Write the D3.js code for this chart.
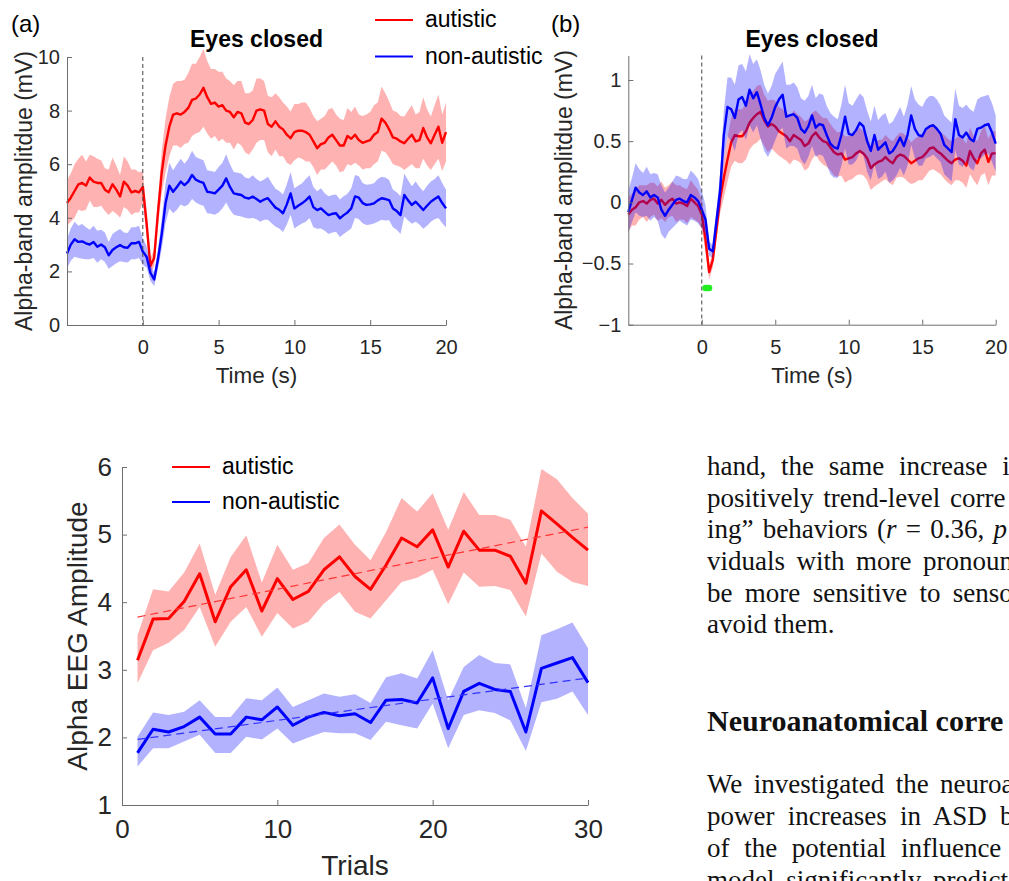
<!DOCTYPE html>
<html><head><meta charset="utf-8">
<script src="https://cdn.jsdelivr.net/npm/d3@7"></script>
<style>
body{margin:0;background:#fff;}
svg{display:block;}
</style></head><body>
<svg id="fig" width="1009" height="881"></svg>
<script>
// ---- time-course data (panels a, b): sampled every 0.25 s from -5 s to 20 s ----
const timeStart = -5, timeStep = 0.25;
const timeTicks = [0, 5, 10, 15, 20];
const ampTicksA = [0, 2, 4, 6, 8, 10];
const ampTicksB = [-1, -0.5, 0, 0.5, 1];

// (a) raw alpha-band amplitude, group means and error half-widths
const autisticA = [
 4.55,4.75,5.00,5.25,5.30,5.20,5.50,5.35,5.30,5.30,
 5.05,4.95,5.25,5.05,4.80,5.35,5.20,4.95,5.00,4.95,
 5.15,3.80,2.20,2.50,4.20,5.70,6.70,7.40,7.85,7.90,
 7.85,7.95,8.10,8.40,8.45,8.60,8.85,8.50,8.25,8.30,
 8.15,8.20,8.00,7.95,7.75,7.95,7.90,7.55,7.50,7.65,
 8.00,8.05,8.00,7.50,7.40,7.60,7.40,7.30,7.10,6.97,
 7.20,7.25,7.25,7.20,7.10,6.85,6.60,6.75,6.80,7.00,
 7.10,6.90,6.70,6.70,7.05,6.95,7.10,6.90,6.80,6.85,
 6.90,7.10,7.20,7.70,7.55,7.30,7.00,6.95,6.85,6.78,
 6.95,7.10,6.85,6.90,7.35,7.00,6.78,7.10,7.40,6.80,
 7.20];
const autisticAErr = [
 0.85,0.9,1.0,0.95,1.05,0.9,0.85,0.95,0.9,0.85,
 0.8,0.85,1.0,0.9,0.8,0.95,0.9,0.85,0.8,0.75,
 0.6,0.45,0.3,0.3,0.5,0.8,1.0,1.1,1.15,1.2,
 1.25,1.2,1.3,1.35,1.3,1.4,1.45,1.35,1.3,1.25,
 1.3,1.25,1.2,1.15,1.2,1.15,1.2,1.1,1.15,1.1,
 1.2,1.15,1.1,1.05,1.1,1.05,1.1,1.0,1.05,1.0,
 1.05,1.0,1.05,1.1,1.0,0.95,1.0,0.95,1.0,1.05,
 1.0,0.95,1.0,0.95,1.05,1.0,1.05,0.95,1.0,1.0,
 1.05,1.1,1.1,1.2,1.1,1.05,1.0,1.0,0.95,1.0,
 1.05,1.1,1.0,1.05,1.15,1.05,1.0,1.1,1.2,1.05,
 1.1];
const nonAutisticA = [
 2.67,3.00,3.20,3.10,3.12,3.05,3.00,3.10,2.92,3.00,
 2.90,2.60,2.80,2.90,2.98,2.90,2.88,3.05,3.05,3.10,
 2.74,2.55,1.95,1.70,2.45,3.40,4.55,5.20,4.97,5.15,
 5.35,5.22,5.35,5.60,5.42,5.35,5.30,4.97,4.95,4.91,
 5.05,5.20,5.47,5.15,4.91,4.88,4.85,4.75,4.72,4.79,
 4.70,4.60,4.68,4.73,4.55,4.38,4.30,4.17,4.50,4.91,
 4.35,4.45,4.54,4.65,4.79,4.40,4.29,4.35,4.22,4.10,
 4.15,4.17,3.98,4.10,4.20,4.35,4.80,4.75,4.55,4.48,
 4.50,4.54,4.65,4.73,4.70,4.66,4.35,4.25,4.10,4.85,
 4.65,4.48,4.60,4.45,4.29,4.45,4.60,4.70,4.79,4.55,
 4.35];
const nonAutisticAErr = [
 0.55,0.6,0.65,0.6,0.65,0.6,0.55,0.6,0.6,0.55,
 0.55,0.5,0.6,0.6,0.6,0.55,0.55,0.6,0.6,0.6,
 0.5,0.4,0.3,0.25,0.35,0.55,0.75,0.85,0.8,0.85,
 0.85,0.8,0.85,0.9,0.85,0.85,0.85,0.8,0.8,0.8,
 0.85,0.85,0.9,0.85,0.8,0.8,0.8,0.75,0.75,0.8,
 0.75,0.75,0.75,0.8,0.75,0.7,0.7,0.7,0.75,0.8,
 0.75,0.75,0.75,0.8,0.8,0.75,0.7,0.75,0.7,0.7,
 0.7,0.7,0.7,0.7,0.7,0.75,0.8,0.8,0.75,0.75,
 0.75,0.75,0.8,0.8,0.8,0.75,0.7,0.7,0.7,0.8,
 0.75,0.7,0.75,0.7,0.7,0.75,0.75,0.75,0.8,0.75,
 0.7];

// (b) baseline-corrected amplitude
const autisticB = [
 -0.10,-0.06,-0.04,0.00,0.01,-0.01,0.02,0.03,-0.01,0.02,
 -0.02,0.01,0.03,-0.01,0.00,-0.01,-0.03,0.03,0.00,-0.03,
 -0.10,-0.30,-0.57,-0.47,-0.22,0.03,0.20,0.35,0.49,0.55,
 0.54,0.54,0.58,0.65,0.69,0.72,0.74,0.67,0.62,0.64,
 0.62,0.58,0.56,0.54,0.50,0.55,0.53,0.51,0.46,0.48,
 0.54,0.57,0.53,0.50,0.49,0.45,0.41,0.39,0.40,0.35,
 0.36,0.37,0.40,0.42,0.40,0.36,0.28,0.31,0.33,0.34,
 0.37,0.34,0.32,0.37,0.39,0.38,0.35,0.32,0.34,0.36,
 0.37,0.40,0.44,0.45,0.42,0.40,0.37,0.34,0.32,0.35,
 0.36,0.34,0.30,0.42,0.36,0.32,0.40,0.43,0.33,0.40,
 0.40];
const autisticBErr = [
 0.14,0.13,0.15,0.14,0.13,0.15,0.14,0.13,0.14,0.15,
 0.14,0.13,0.14,0.15,0.14,0.13,0.14,0.15,0.14,0.13,
 0.12,0.1,0.06,0.06,0.08,0.12,0.16,0.18,0.2,0.21,
 0.22,0.22,0.23,0.22,0.22,0.23,0.22,0.21,0.21,0.2,
 0.21,0.2,0.2,0.2,0.19,0.2,0.19,0.19,0.2,0.2,
 0.19,0.18,0.19,0.19,0.2,0.19,0.19,0.18,0.18,0.19,
 0.18,0.18,0.18,0.19,0.18,0.18,0.18,0.18,0.18,0.17,
 0.18,0.18,0.18,0.17,0.18,0.18,0.18,0.17,0.18,0.18,
 0.19,0.18,0.18,0.18,0.17,0.17,0.18,0.18,0.18,0.17,
 0.18,0.18,0.18,0.19,0.18,0.18,0.18,0.19,0.19,0.18,
 0.18];
const nonAutisticB = [
 -0.08,0.02,0.12,0.08,0.06,0.09,0.04,0.06,0.04,-0.06,
 -0.11,-0.06,-0.02,0.02,0.03,0.01,0.00,0.06,0.04,0.01,
 -0.06,-0.14,-0.38,-0.40,-0.15,0.10,0.55,0.78,0.76,0.69,
 0.84,0.86,0.79,0.92,0.85,0.90,0.80,0.69,0.63,0.69,
 0.78,0.84,0.88,0.70,0.71,0.72,0.69,0.60,0.57,0.62,
 0.71,0.61,0.64,0.63,0.55,0.48,0.45,0.44,0.55,0.70,
 0.56,0.55,0.59,0.65,0.62,0.50,0.42,0.55,0.43,0.46,
 0.49,0.40,0.42,0.47,0.53,0.46,0.55,0.71,0.60,0.55,
 0.54,0.60,0.62,0.63,0.60,0.56,0.47,0.44,0.41,0.68,
 0.55,0.53,0.57,0.52,0.50,0.60,0.61,0.63,0.64,0.57,
 0.48];
const nonAutisticBErr = [
 0.17,0.18,0.2,0.19,0.18,0.2,0.19,0.18,0.19,0.2,
 0.19,0.18,0.19,0.2,0.18,0.18,0.19,0.2,0.19,0.18,
 0.15,0.12,0.06,0.05,0.08,0.14,0.2,0.24,0.26,0.27,
 0.28,0.27,0.28,0.29,0.28,0.27,0.28,0.27,0.26,0.26,
 0.27,0.26,0.27,0.26,0.25,0.26,0.25,0.25,0.26,0.25,
 0.25,0.24,0.25,0.25,0.24,0.25,0.25,0.24,0.25,0.26,
 0.25,0.24,0.25,0.24,0.24,0.25,0.24,0.24,0.24,0.25,
 0.24,0.24,0.24,0.25,0.25,0.24,0.25,0.24,0.24,0.25,
 0.24,0.24,0.25,0.24,0.24,0.23,0.24,0.24,0.24,0.25,
 0.24,0.24,0.23,0.24,0.24,0.24,0.25,0.24,0.24,0.24,
 0.23];
// significant group difference (panel b)
const sigTimes = [0.25, 0.375, 0.5];
const sigLevel = -0.70;

// ---- trial-by-trial data ----
const trials = [1,2,3,4,5,6,7,8,9,10,11,12,13,14,15,16,17,18,19,20,21,22,23,24,25,26,27,28,29,30];
const trialTicksX = [0, 10, 20, 30];
const trialTicksY = [1, 2, 3, 4, 5, 6];
const autisticTrial = [3.14,3.75,3.76,4.01,4.42,3.71,4.23,4.48,3.87,4.35,4.04,4.16,4.48,4.67,4.38,4.19,4.55,4.95,4.82,5.07,4.52,5.05,4.77,4.77,4.68,4.28,5.35,5.16,4.96,4.77];
const autisticTrialHi = [3.51,4.19,4.16,4.44,4.87,4.11,4.67,4.99,4.29,4.85,4.48,4.58,4.95,5.15,4.85,4.62,5.04,5.54,5.34,5.61,5.07,5.63,5.29,5.29,5.22,4.82,5.97,5.82,5.54,5.31];
const autisticTrialLo = [2.80,3.29,3.40,3.59,3.93,3.34,3.71,3.93,3.49,3.84,3.61,3.71,3.98,4.15,3.86,3.76,4.03,4.30,4.36,4.48,3.97,4.44,4.23,4.24,4.18,3.79,4.72,4.45,4.30,4.24];
const nonAutisticTrial = [1.77,2.12,2.08,2.16,2.30,2.05,2.05,2.30,2.26,2.45,2.18,2.30,2.37,2.32,2.35,2.22,2.55,2.56,2.51,2.88,2.13,2.68,2.80,2.71,2.68,2.08,3.02,3.10,3.18,2.81];
const nonAutisticTrialHi = [2.01,2.37,2.33,2.38,2.55,2.30,2.30,2.58,2.55,2.74,2.45,2.55,2.65,2.60,2.64,2.51,2.89,2.95,2.87,3.29,2.55,3.04,3.22,3.10,3.08,2.43,3.51,3.60,3.70,3.32];
const nonAutisticTrialLo = [1.57,1.84,1.84,1.94,2.04,1.77,1.77,2.01,1.97,2.13,1.91,2.00,2.08,2.06,2.06,1.96,2.23,2.18,2.13,2.50,1.84,2.33,2.40,2.36,2.25,1.80,2.52,2.57,2.68,2.33];
// linear trend end points (trial 1, trial 30)
const autisticTrend = [3.78, 5.11];
const nonAutisticTrend = [1.97, 2.88];

const seriesNames = ["autistic", "non-autistic"];

// ---- drawing ----
const RED = "#ff0000", BLUE = "#0000ff", INK = "#262626";
const SANS = "'Liberation Sans', Arial, Helvetica, sans-serif";
const SERIF = "'Liberation Serif', 'Times New Roman', serif";
const svg = d3.select("#fig");
svg.append("rect").attr("width", 1009).attr("height", 881).attr("fill", "#fff");

const timeGrid = d3.range(autisticA.length).map(i => timeStart + i * timeStep);
const tickFmt = d => (d < 0 ? "\u2212" : "") + Math.abs(d);

function styleAxis(g, size) {
  g.attr("font-family", null).attr("font-size", null);
  g.select(".domain").attr("stroke", "#6e6e6e").attr("stroke-width", 1);
  g.selectAll(".tick line").attr("stroke", "#6e6e6e").attr("stroke-width", 1);
  g.selectAll(".tick text").attr("fill", INK)
    .style("font-family", SANS).style("font-size", size + "px");
}

function timePanel(opt) {
  const x = d3.scaleLinear().domain([-5, 20]).range(opt.xr);
  const y = d3.scaleLinear().domain(opt.yd).range(opt.yr);
  const g = svg.append("g");

  const band = (m, e) => d3.area()
    .x((d, i) => x(timeGrid[i]))
    .y0((d, i) => y(m[i] - e[i]))
    .y1((d, i) => y(m[i] + e[i]))(m);
  const line = m => d3.line().x((d, i) => x(timeGrid[i])).y(d => y(d))(m);

  g.append("path").attr("d", band(opt.red, opt.redErr)).attr("fill", RED).attr("fill-opacity", 0.3);
  g.append("path").attr("d", line(opt.red)).attr("fill", "none").attr("stroke", RED)
    .attr("stroke-width", 2.4).attr("stroke-linejoin", "round");
  g.append("path").attr("d", band(opt.blue, opt.blueErr)).attr("fill", BLUE).attr("fill-opacity", 0.3);
  g.append("path").attr("d", line(opt.blue)).attr("fill", "none").attr("stroke", BLUE)
    .attr("stroke-width", 2.4).attr("stroke-linejoin", "round");

  // stimulus onset
  g.append("line").attr("x1", x(0)).attr("x2", x(0))
    .attr("y1", opt.yr[1]).attr("y2", opt.yr[0])
    .attr("stroke", "#444").attr("stroke-width", 1).attr("stroke-dasharray", "4,3");

  const ax = g.append("g").attr("transform", `translate(0,${opt.yr[0]})`)
    .call(d3.axisBottom(x).tickValues(timeTicks).tickFormat(tickFmt)
      .tickSizeInner(-5).tickSizeOuter(0).tickPadding(15));
  styleAxis(ax, 20);
  const ay = g.append("g").attr("transform", `translate(${opt.xr[0]},0)`)
    .call(d3.axisLeft(y).tickValues(opt.yt).tickFormat(tickFmt)
      .tickSizeInner(-5).tickSizeOuter(0).tickPadding(7));
  styleAxis(ay, 20);

  const cx = (opt.xr[0] + opt.xr[1]) / 2;
  g.append("text").attr("x", cx).attr("y", 47).attr("text-anchor", "middle")
    .style("font-family", SANS).style("font-size", "23px").style("font-weight", "bold")
    .attr("fill", "#000").text("Eyes closed");
  g.append("text").attr("x", cx).attr("y", 383).attr("text-anchor", "middle")
    .style("font-family", SANS).style("font-size", "22.5px").attr("fill", INK).text("Time (s)");
  g.append("text").attr("transform", `translate(${opt.ylx},${(opt.yr[0] + opt.yr[1]) / 2}) rotate(-90)`)
    .attr("text-anchor", "middle")
    .style("font-family", SANS).style("font-size", "23px").attr("fill", INK)
    .text("Alpha-band amplitdue (mV)");
  g.append("text").attr("x", opt.lx).attr("y", 32)
    .style("font-family", SANS).style("font-size", "24px").attr("fill", "#000").text(opt.letter);
  return { x, y, g };
}

const pa = timePanel({
  xr: [67, 446], yd: [0, 10], yr: [325, 57], yt: ampTicksA,
  red: autisticA, redErr: autisticAErr, blue: nonAutisticA, blueErr: nonAutisticAErr,
  ylx: 32, lx: 11, letter: "(a)"
});
const pb = timePanel({
  xr: [628.3, 995.7], yd: [-1, 1.2], yr: [324.7, 55.5], yt: ampTicksB,
  red: autisticB, redErr: autisticBErr, blue: nonAutisticB, blueErr: nonAutisticBErr,
  ylx: 572, lx: 551, letter: "(b)"
});
pb.g.selectAll(".sig").data(sigTimes).join("circle").attr("class", "sig")
  .attr("cx", d => pb.x(d)).attr("cy", pb.y(sigLevel)).attr("r", 3.2).attr("fill", "#22ee22");

function legend(x0, y0, gap) {
  const g = svg.append("g");
  [RED, BLUE].forEach((c, i) => {
    g.append("line").attr("x1", x0).attr("x2", x0 + 38).attr("y1", y0 + i * gap).attr("y2", y0 + i * gap)
      .attr("stroke", c).attr("stroke-width", 2);
    g.append("text").attr("x", x0 + 50).attr("y", y0 + i * gap + 7)
      .style("font-family", SANS).style("font-size", "23px").attr("fill", "#000").text(seriesNames[i]);
  });
}
legend(375, 20, 36.5);

// ---- trial panel ----
{
  const x = d3.scaleLinear().domain([0, 30]).range([122, 588]);
  const y = d3.scaleLinear().domain([1, 6]).range([805, 467]);
  const g = svg.append("g");
  const band = (lo, hi) => d3.area().x((d, i) => x(trials[i])).y0((d, i) => y(lo[i])).y1((d, i) => y(hi[i]))(trials);
  const line = m => d3.line().x((d, i) => x(trials[i])).y(d => y(d))(m);

  g.append("path").attr("d", band(autisticTrialLo, autisticTrialHi)).attr("fill", RED).attr("fill-opacity", 0.3);
  g.append("path").attr("d", band(nonAutisticTrialLo, nonAutisticTrialHi)).attr("fill", BLUE).attr("fill-opacity", 0.3);
  g.append("path").attr("d", line(autisticTrial)).attr("fill", "none").attr("stroke", RED)
    .attr("stroke-width", 3).attr("stroke-linejoin", "round");
  g.append("path").attr("d", line(nonAutisticTrial)).attr("fill", "none").attr("stroke", BLUE)
    .attr("stroke-width", 3).attr("stroke-linejoin", "round");
  [[autisticTrend, "#ff3333"], [nonAutisticTrend, "#3333ff"]].forEach(([t, c]) => {
    g.append("line").attr("x1", x(trials[0])).attr("x2", x(trials[trials.length - 1]))
      .attr("y1", y(t[0])).attr("y2", y(t[1]))
      .attr("stroke", c).attr("stroke-width", 1.2).attr("stroke-dasharray", "8,5");
  });

  const ax = g.append("g").attr("transform", "translate(0,805)")
    .call(d3.axisBottom(x).tickValues(trialTicksX).tickFormat(tickFmt)
      .tickSizeInner(-5).tickSizeOuter(0).tickPadding(15));
  styleAxis(ax, 26);
  const ay = g.append("g").attr("transform", "translate(122,0)")
    .call(d3.axisLeft(y).tickValues(trialTicksY).tickFormat(tickFmt)
      .tickSizeInner(-5).tickSizeOuter(0).tickPadding(10));
  styleAxis(ay, 26);

  g.append("text").attr("x", 355).attr("y", 875).attr("text-anchor", "middle")
    .style("font-family", SANS).style("font-size", "28px").attr("fill", INK).text("Trials");
  g.append("text").attr("transform", "translate(87,636) rotate(-90)").attr("text-anchor", "middle")
    .style("font-family", SANS).style("font-size", "28px").attr("fill", INK).text("Alpha EEG Amplitude");
}
legend(172, 467, 35);

// ---- running text column ----
{
  const g = svg.append("g").style("font-family", SERIF).attr("fill", "#111");
  const body = [
    { y: 475, ws: 8, parts: [["hand, the same increase i", false]] },
    { y: 506.7, ws: 3, parts: [["positively trend-level corre", false]] },
    { y: 538.3, ws: 2.5, parts: [["ing\u201D behaviors (", false], ["r", true], [" = 0.36, ", false], ["p", true]] },
    { y: 570, ws: 4.8, parts: [["viduals with more pronoun", false]] },
    { y: 601.7, ws: 5.6, parts: [["be more sensitive to senso", false]] },
    { y: 633.3, ws: 0, parts: [["avoid them.", false]] },
    { y: 793.3, ws: 4.7, parts: [["We investigated the neuroa", false]] },
    { y: 825, ws: 6.5, parts: [["power increases in ASD b", false]] },
    { y: 856.7, ws: 7.9, parts: [["of the potential influence", false]] },
    { y: 889, ws: 5, parts: [["model significantly predict", false]] }
  ];
  body.forEach(l => {
    const t = g.append("text").attr("x", 707).attr("y", l.y)
      .style("font-size", "27px").style("word-spacing", l.ws + "px");
    l.parts.forEach(([s, it]) => t.append("tspan").style("font-style", it ? "italic" : "normal").text(s));
  });
  g.append("text").attr("x", 707).attr("y", 731).style("font-size", "30px").style("font-weight", "bold")
    .text("Neuroanatomical corre");
}
</script>
</body></html>
